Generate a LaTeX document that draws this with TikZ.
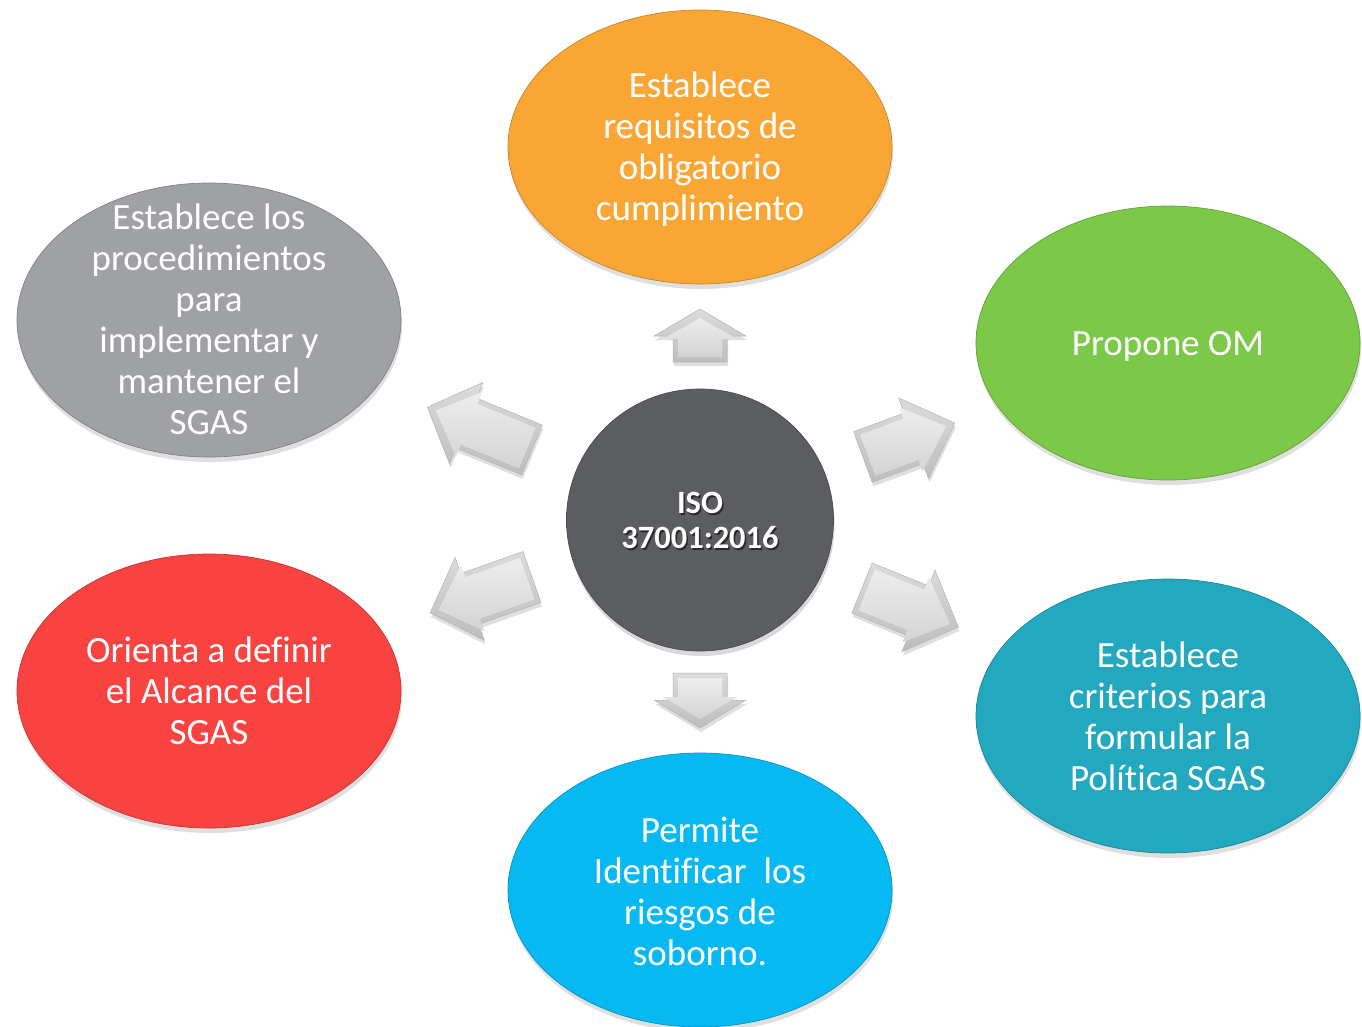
\documentclass[tikz,border=0pt]{standalone}
\usepackage{fontspec}
\setmainfont[Ligatures=NoCommon]{Carlito}
\usetikzlibrary{shapes.geometric,shadows}
\definecolor{cOrange}{RGB}{250,166,52}
\definecolor{cGreen}{RGB}{124,201,74}
\definecolor{cTeal}{RGB}{34,168,191}
\definecolor{cBlue}{RGB}{7,185,242}
\definecolor{cRed}{RGB}{248,67,64}
\definecolor{cGray}{RGB}{160,161,165}
\definecolor{cCenter}{RGB}{92,93,97}
\newcommand\mkglow[1]{\pgfdeclareradialshading{glow#1}{\pgfpoint{0bp}{0bp}}{color(0bp)=(#1); color(38bp)=(#1); color(47bp)=(#1!90!black); color(50bp)=(#1!72!black)}}
\mkglow{cOrange}\mkglow{cGreen}\mkglow{cTeal}\mkglow{cBlue}\mkglow{cRed}\mkglow{cGray}\mkglow{cCenter}
\tikzset{
  ell/.style={ellipse, minimum width=384pt, minimum height=274pt, inner sep=0pt,
    shading=glow#1, draw=#1!80!black, line width=0.7pt,
    drop shadow={opacity=0.25, shadow xshift=1pt, shadow yshift=-5pt}},
  txt/.style={text=white, align=center, inner sep=0pt, font=\fontsize{37}{41}\selectfont},
  ctxt/.style={align=center, inner sep=0pt, font=\bfseries\fontsize{32.5}{35}\selectfont},
  arrowouter/.style={top color=gray!28, bottom color=gray!52, draw=gray!58, line width=0.5pt,
    drop shadow={opacity=0.25, shadow xshift=1pt, shadow yshift=-4pt}},
  arrowinner/.style={top color=gray!14, bottom color=gray!34},
}
% #1 shift, #2 rotate, #3 length, #4 head length, #5 head half width
\newcommand\bevarrow[5]{%
  \begin{scope}[shift={#1}, rotate=#2]
    \path[arrowouter] (0,-27) -- ({#3-#4},-27) -- ({#3-#4},-#5) -- (#3,0) -- ({#3-#4},#5) -- ({#3-#4},27) -- (0,27) -- cycle;
    \path[arrowinner] (5,-22) -- ({#3-#4-3},-22) -- ({#3-#4-3},{-#5+9}) -- ({#3-9},0) -- ({#3-#4-3},{#5-9}) -- ({#3-#4-3},22) -- (5,22) -- cycle;
  \end{scope}}
\begin{document}
\begin{tikzpicture}[x=1pt,y=-1pt]
\useasboundingbox (0,0) rectangle (1362,1026);

% outer ellipses
\node[ell=cOrange] (orange) at (700,147) {};
\node[ell=cGreen]  (green)  at (1168,343) {};
\node[ell=cTeal]   (teal)   at (1168,716) {};
\node[ell=cBlue]   (blue)   at (700,890) {};
\node[ell=cRed]    (red)    at (209,691) {};
\node[ell=cGray]   (gray)   at (209,320) {};

% centre circle
\node[ellipse, minimum width=267pt, minimum height=262pt, inner sep=0pt, shading=glowcCenter,
      draw=cCenter!80!black, line width=0.7pt,
      drop shadow={opacity=0.3, shadow xshift=1pt, shadow yshift=-5pt}] (iso) at (700,520) {};

% arrows
\bevarrow{(700,362)}{90}{53}{27}{46}
\bevarrow{(700,673)}{-90}{55}{28}{46}
\bevarrow{(863,457)}{20.3}{98}{44}{43}
\bevarrow{(862,588)}{-22.1}{104}{43}{44}
\bevarrow{(532,450)}{157.7}{113}{42}{44}
\bevarrow{(532,577)}{199.4}{108}{42}{44}

% texts
\node[txt] (torange) at ([yshift=-2pt]orange.center) {Establece\\requisitos de\\obligatorio\\cumplimiento};
\node[txt] (tgreen) at ([yshift=-3pt]green.center) {Propone OM};
\node[txt] (tteal) at (teal.center) {Establece\\criterios para\\formular la\\Política SGAS};
\node[txt] (tblue) at ([yshift=-1pt]blue.center) {Permite\\Identificar\ \ los\\riesgos de\\soborno.};
\node[txt] (tred) at (red.center) {Orienta a definir\\el Alcance del\\SGAS};
\node[txt] (tgray) at ([yshift=1pt]gray.center) {Establece los\\procedimientos\\para\\implementar y\\mantener el\\SGAS};

\node[ctxt, text=black, opacity=0.55] (isoshadow) at ([xshift=1.5pt,yshift=-2pt]iso.center) {ISO\\37001:2016};
\node[ctxt, text=white] (isotext) at (iso.center) {ISO\\37001:2016};
\end{tikzpicture}
\end{document}
